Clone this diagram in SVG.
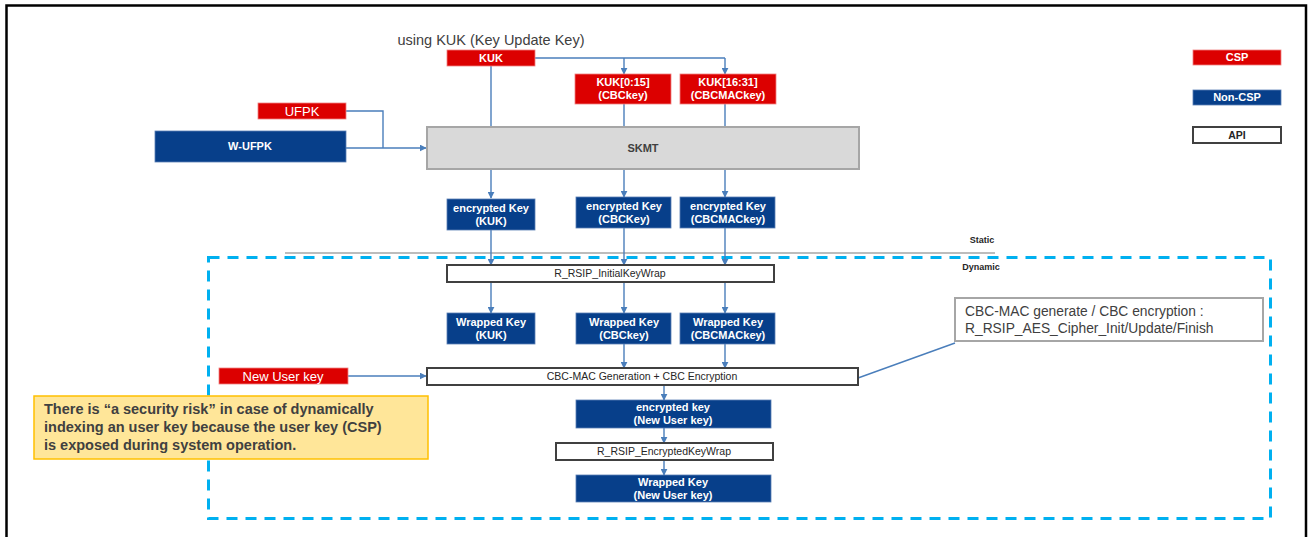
<svg xmlns="http://www.w3.org/2000/svg" width="1308" height="537" viewBox="0 0 1308 537">
<defs>
<marker id="arr" viewBox="0 0 10 10" refX="9" refY="5" markerWidth="7" markerHeight="7" markerUnits="userSpaceOnUse" orient="auto"><path d="M0,0 L10,5 L0,10 z" fill="#4a7ebb"/></marker>
<style>
.csp{fill:#dc0000;stroke:#f08080;stroke-width:0.8}
.ncsp{fill:#073f8a;stroke:#5a7fb5;stroke-width:0.8}
.api{fill:#ffffff;stroke:#404040;stroke-width:2}
.wb{font-family:"Liberation Sans",Arial,sans-serif;font-weight:bold;font-size:11px;fill:#ffffff;text-anchor:middle}
.wn{font-family:"Liberation Sans",Arial,sans-serif;font-size:13px;fill:#ffffff;text-anchor:middle}
.at{font-family:"Liberation Sans",Arial,sans-serif;font-size:10.5px;fill:#262626;text-anchor:middle}
.lbl{font-family:"Liberation Sans",Arial,sans-serif;font-weight:bold;font-size:9px;fill:#262626;text-anchor:middle}
.con{fill:none;stroke:#4a7ebb;stroke-width:1.4}
.arw{fill:none;stroke:#4a7ebb;stroke-width:1.4;marker-end:url(#arr)}
</style>
</defs>
<rect x="0" y="0" width="1308" height="537" fill="#ffffff"/>
<path d="M6.5,537 V5.5 H1306 V537" fill="none" stroke="#000000" stroke-width="2.5"/>

<text x="491" y="45" font-family="'Liberation Sans',Arial,sans-serif" font-size="14.5" fill="#404040" text-anchor="middle">using KUK (Key Update Key)</text>

<g id="regions">
<line x1="285" y1="253" x2="995" y2="253" stroke="#a6a6a6" stroke-width="1.5"/>
<rect x="208.5" y="257.5" width="1062" height="261" fill="none" stroke="#00b0f0" stroke-width="3" stroke-dasharray="11,8"/>
<text x="982" y="243" class="lbl">Static</text>
<text x="981" y="270" class="lbl">Dynamic</text>
</g>

<g id="connectors">
<path class="con" d="M535,58 H725"/>
<path class="arw" d="M624,58 V74"/>
<path class="arw" d="M725,58 V74"/>
<path class="con" d="M491,66 V127"/>
<path class="con" d="M624,104 V127"/>
<path class="con" d="M725,104 V127"/>
<path class="con" d="M346,111 H383 V148"/>
<path class="arw" d="M346,148 H426"/>
<path class="arw" d="M491,169 V198"/>
<path class="arw" d="M624,169 V197"/>
<path class="arw" d="M725,169 V197"/>
<path class="arw" d="M491,230 V265"/>
<path class="arw" d="M624,228 V265"/>
<path class="arw" d="M725,228 V265"/>
<path class="arw" d="M491,282 V313"/>
<path class="arw" d="M624,282 V313"/>
<path class="arw" d="M725,282 V313"/>
<path class="arw" d="M624,344 V368"/>
<path class="arw" d="M725,344 V368"/>
<path class="arw" d="M348,376 H426"/>
<path class="con" d="M858,378 L955,343"/>
<path class="arw" d="M664,385 V400"/>
<path class="arw" d="M664,428 V443"/>
<path class="arw" d="M664,460 V475"/>
</g>

<g id="kuk"><rect class="csp" x="447" y="50" width="88" height="16"/><text class="wb" x="491" y="62">KUK</text></g>
<g id="kuk015"><rect class="csp" x="575" y="74" width="96" height="30"/><text class="wb" x="623" y="86">KUK[0:15]</text><text class="wb" x="623" y="99">(CBCkey)</text></g>
<g id="kuk1631"><rect class="csp" x="680" y="74" width="96" height="30"/><text class="wb" x="728" y="86">KUK[16:31]</text><text class="wb" x="728" y="99">(CBCMACkey)</text></g>
<g id="ufpk"><rect class="csp" x="258" y="103" width="88" height="16"/><text class="wn" x="302" y="116">UFPK</text></g>
<g id="wufpk"><rect class="ncsp" x="155" y="131" width="191" height="31"/><text class="wb" x="250" y="150">W-UFPK</text></g>
<g id="skmt"><rect x="427" y="127" width="432" height="42" fill="#d9d9d9" stroke="#a6a6a6" stroke-width="2"/><text class="wb" x="643" y="152" style="fill:#404040">SKMT</text></g>

<g id="enc-kuk"><rect class="ncsp" x="447" y="199" width="88" height="31"/><text class="wb" x="491" y="212">encrypted Key</text><text class="wb" x="491" y="225">(KUK)</text></g>
<g id="enc-cbc"><rect class="ncsp" x="576" y="197" width="95" height="31"/><text class="wb" x="624" y="210">encrypted Key</text><text class="wb" x="624" y="223">(CBCKey)</text></g>
<g id="enc-cbcmac"><rect class="ncsp" x="680" y="197" width="95" height="31"/><text class="wb" x="728" y="210">encrypted Key</text><text class="wb" x="728" y="223">(CBCMACkey)</text></g>

<g id="initwrap"><rect class="api" x="447" y="265" width="327" height="17"/><text class="at" x="610" y="277">R_RSIP_InitialKeyWrap</text></g>

<g id="wr-kuk"><rect class="ncsp" x="447" y="313" width="88" height="31"/><text class="wb" x="491" y="326">Wrapped Key</text><text class="wb" x="491" y="339">(KUK)</text></g>
<g id="wr-cbc"><rect class="ncsp" x="576" y="313" width="95" height="31"/><text class="wb" x="624" y="326">Wrapped Key</text><text class="wb" x="624" y="339">(CBCkey)</text></g>
<g id="wr-cbcmac"><rect class="ncsp" x="680" y="313" width="95" height="31"/><text class="wb" x="728" y="326">Wrapped Key</text><text class="wb" x="728" y="339">(CBCMACkey)</text></g>

<g id="newuser"><rect class="csp" x="219" y="368" width="129" height="16"/><text class="wn" x="283" y="381">New User key</text></g>
<g id="cbcmacgen"><rect class="api" x="427" y="368" width="431" height="17"/><text class="at" x="642" y="380">CBC-MAC Generation  + CBC Encryption</text></g>

<g id="callout"><rect x="955" y="298" width="308" height="43" fill="#ffffff" stroke="#a6a6a6" stroke-width="2"/>
<text x="965" y="316" font-family="'Liberation Sans',Arial,sans-serif" font-size="13.8" fill="#404040">CBC-MAC generate / CBC encryption :</text>
<text x="965" y="333" font-family="'Liberation Sans',Arial,sans-serif" font-size="13.8" fill="#404040">R_RSIP_AES_Cipher_Init/Update/Finish</text></g>

<g id="enc-new"><rect class="ncsp" x="576" y="400" width="195" height="28"/><text class="wb" x="673" y="411">encrypted key</text><text class="wb" x="673" y="424">(New User key)</text></g>
<g id="encwrap"><rect class="api" x="556" y="443" width="217" height="17"/><text class="at" x="664" y="455">R_RSIP_EncryptedKeyWrap</text></g>
<g id="wr-new"><rect class="ncsp" x="576" y="475" width="195" height="27"/><text class="wb" x="673" y="486">Wrapped Key</text><text class="wb" x="673" y="499">(New User key)</text></g>

<g id="note"><rect x="34" y="396" width="394" height="63" fill="#ffe699" stroke="#ffc000" stroke-width="1.5"/>
<text font-family="'Liberation Sans',Arial,sans-serif" font-weight="bold" font-size="14.5" fill="#404040">
<tspan x="44" y="414">There is “a security risk” in case of dynamically</tspan>
<tspan x="44" y="432">indexing an user key because the user key (CSP)</tspan>
<tspan x="44" y="450">is exposed during system operation.</tspan></text></g>

<g id="legend">
<g id="leg-csp"><rect class="csp" x="1193" y="50" width="88" height="15"/><text class="wb" x="1237" y="61">CSP</text></g>
<g id="leg-ncsp"><rect class="ncsp" x="1193" y="90" width="88" height="15"/><text class="wb" x="1237" y="101">Non-CSP</text></g>
<g id="leg-api"><rect class="api" x="1193" y="127" width="88" height="16"/><text class="at" x="1237" y="139" font-weight="bold">API</text></g>
</g>
</svg>
